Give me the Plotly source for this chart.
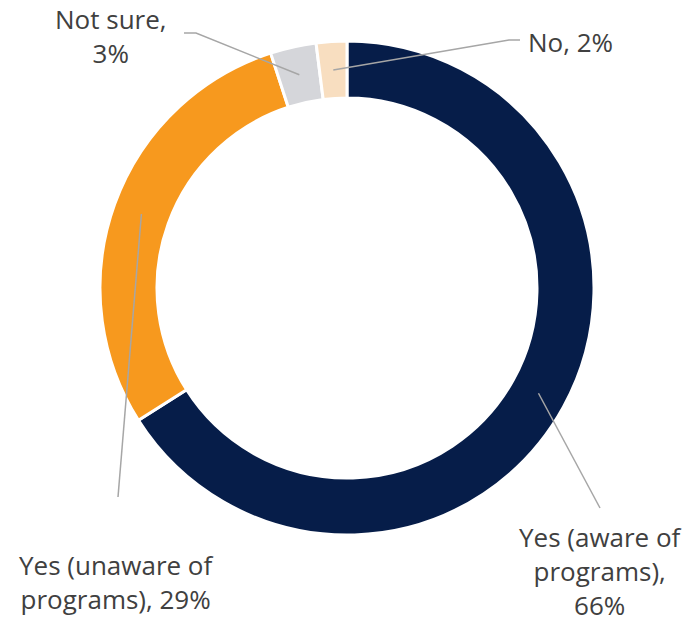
import math
import plotly.graph_objects as go

# Survey responses (percent)
labels = ["Yes (aware of programs)", "Yes (unaware of programs)", "Not sure", "No"]
values = [66, 29, 3, 2]
label_text = ["Yes (aware of<br>programs),<br>66%", "Yes (unaware of<br>programs), 29%",
              "Not sure,<br>3%", "No, 2%"]
colors = ["#061D49", "#F7991E", "#D5D6DA", "#F8DEC0"]

W, H = 694, 623
CX, CY, R_OUT, R_IN = 347, 288, 247, 190
FONT = dict(family="Open Sans", size=26, color="#404040")


def px(x):
    return x / W


def py(y):
    return 1 - y / H


fig = go.Figure(go.Pie(
    labels=labels,
    values=values,
    sort=False,
    direction="clockwise",
    rotation=0,
    hole=R_IN / R_OUT,
    marker=dict(colors=colors, line=dict(color="white", width=3)),
    textinfo="none",
    hoverinfo="label+percent",
    domain=dict(x=[px(CX - R_OUT), px(CX + R_OUT)], y=[py(CY + R_OUT), py(CY - R_OUT)]),
    showlegend=False,
))

# Leader line bends (pixels) and label block centre for each slice
elbows = [
    [(600, 508)],
    [(118, 497)],
    [(196, 33), (184, 33)],
    [(509, 40), (520, 40)],
]
text_pos = [
    dict(x=600, y=571, xanchor="center", align="center"),
    dict(x=116, y=582, xanchor="center", align="center"),
    dict(x=111, y=36, xanchor="center", align="center"),
    dict(x=527, y=42, xanchor="left", align="left"),
]

total = sum(values)
cum = 0
shapes = []
annotations = []
r_mid = (R_OUT + R_IN) / 2
for v, txt, pts, tp in zip(values, label_text, elbows, text_pos):
    mid = (cum + v / 2) / total * 2 * math.pi
    cum += v
    sx = CX + r_mid * math.sin(mid)
    sy = CY - r_mid * math.cos(mid)
    path_pts = [(sx, sy)] + pts
    path = "M " + " L ".join(f"{px(x):.5f},{py(y):.5f}" for x, y in path_pts)
    shapes.append(dict(type="path", path=path, xref="paper", yref="paper",
                       line=dict(color="#A6A6A6", width=1.5)))
    annotations.append(dict(text=txt, x=px(tp["x"]), y=py(tp["y"]), xref="paper", yref="paper",
                            xanchor=tp["xanchor"], yanchor="middle", align=tp["align"],
                            showarrow=False, borderpad=0, font=FONT))

fig.update_layout(
    width=W, height=H,
    margin=dict(l=0, r=0, t=0, b=0),
    paper_bgcolor="white",
    plot_bgcolor="white",
    shapes=shapes,
    annotations=annotations,
)

fig.write_html("out.html")
